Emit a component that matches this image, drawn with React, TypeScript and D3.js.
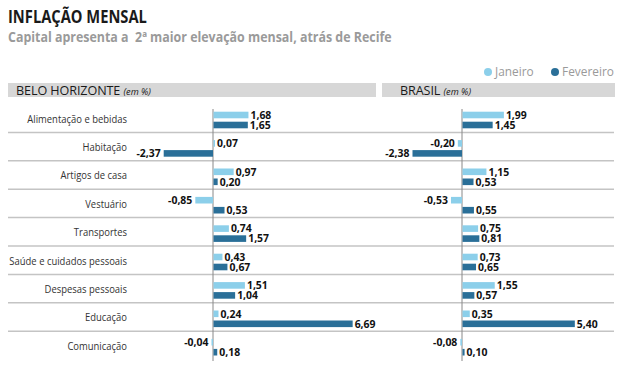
import { useEffect, useRef } from "react";
import * as d3 from "d3";

const categories = [
  "Alimentação e bebidas",
  "Habitação",
  "Artigos de casa",
  "Vestuário",
  "Transportes",
  "Saúde e cuidados pessoais",
  "Despesas pessoais",
  "Educação",
  "Comunicação",
];
const bhJaneiro = [1.68, 0.07, 0.97, -0.85, 0.74, 0.43, 1.51, 0.24, -0.04];
const bhFevereiro = [1.65, -2.37, 0.2, 0.53, 1.57, 0.67, 1.04, 6.69, 0.18];
const brJaneiro = [1.99, -0.2, 1.15, -0.53, 0.75, 0.73, 1.55, 0.35, -0.08];
const brFevereiro = [1.45, -2.38, 0.53, 0.55, 0.81, 0.65, 0.57, 5.4, 0.1];
const seriesNames = ["Janeiro", "Fevereiro"];

const W = 620;
const H = 367;
const FONT = "'Open Sans', sans-serif";
const JAN = "#8ccfea";
const FEV = "#2a6f98";
const SQUEEZE = 0.86;

const fmt = (v: number) => v.toFixed(2).replace(".", ",");

export default function App() {
  const ref = useRef<SVGSVGElement>(null);

  useEffect(() => {
    if (!ref.current) return;
    const svg = d3.select(ref.current);
    svg.selectAll("*").remove();

    // condensed-looking text: draw at origin, squeeze horizontally
    const txt = (
      g: d3.Selection<any, any, any, any>,
      x: number,
      y: number,
      s: string,
      o: { size: number; weight?: string; fill?: string; anchor?: string; style?: string; sq?: number },
    ) =>
      g
        .append("text")
        .attr("transform", `translate(${x},${y}) scale(${o.sq ?? SQUEEZE},1)`)
        .attr("font-family", FONT)
        .attr("font-size", o.size)
        .attr("font-weight", o.weight ?? "normal")
        .attr("font-style", o.style ?? "normal")
        .attr("fill", o.fill ?? "#222")
        .attr("text-anchor", o.anchor ?? "start")
        .style("white-space", "pre")
        .text(s);

    txt(svg, 8, 23, "INFLAÇÃO MENSAL", { size: 17.5, weight: "bold", fill: "#1a1a1a", sq: 0.84 });
    txt(svg, 8, 42, "Capital apresenta a  2ª maior elevação mensal, atrás de Recife", {
      size: 13.5,
      weight: "bold",
      fill: "#9a9a9a",
      sq: 0.92,
    });

    // legend
    const legendX = [488, 555];
    seriesNames.forEach((name, i) => {
      svg.append("circle").attr("cx", legendX[i]).attr("cy", 72).attr("r", 4).attr("fill", i === 0 ? JAN : FEV);
      txt(svg, legendX[i] + 7, 76, name, { size: 12.5, fill: "#9a9a9a", sq: 0.95 });
    });

    const y = d3.scaleBand<string>().domain(categories).range([104, 359.6]);

    // separators
    svg
      .append("g")
      .selectAll("line")
      .data(categories.slice(0, -1))
      .join("line")
      .attr("x1", 8)
      .attr("x2", 614)
      .attr("y1", (d) => (y(d) ?? 0) + y.bandwidth())
      .attr("y2", (d) => (y(d) ?? 0) + y.bandwidth())
      .attr("stroke", "#c4c4c4")
      .attr("stroke-width", 1.5);

    // category labels
    categories.forEach((c) => {
      txt(svg, 127, (y(c) ?? 0) + 18.5, c, { size: 11, fill: "#333", anchor: "end" });
    });

    const unit = 20.8;
    const panels = [
      { title: "BELO HORIZONTE", hx: 8, hw: 368, tx: 16, zero: 213, jan: bhJaneiro, fev: bhFevereiro },
      { title: "BRASIL", hx: 382, hw: 233, tx: 400, zero: 462, jan: brJaneiro, fev: brFevereiro },
    ];

    panels.forEach((p) => {
      svg.append("rect").attr("x", p.hx).attr("y", 83).attr("width", p.hw).attr("height", 14).attr("fill", "#d7d7d7");
      const t = svg
        .append("text")
        .attr("transform", `translate(${p.tx},95) scale(0.97,1)`)
        .attr("font-family", FONT)
        .attr("fill", "#1a1a1a");
      t.append("tspan").attr("font-size", 13).attr("letter-spacing", -0.1).text(p.title + " ");
      t.append("tspan").attr("font-size", 9.5).attr("font-style", "italic").text("(em %)");

      const x = d3
        .scaleLinear()
        .domain([-3, 7])
        .range([p.zero - 3 * unit, p.zero + 7 * unit]);

      const g = svg.append("g");
      g.append("line")
        .attr("x1", x(0))
        .attr("x2", x(0))
        .attr("y1", 109)
        .attr("y2", 361)
        .attr("stroke", "#888")
        .attr("stroke-width", 1);

      const series = [
        { vals: p.jan, color: JAN, off: 7.7 },
        { vals: p.fev, color: FEV, off: 17.7 },
      ];
      series.forEach((s) => {
        s.vals.forEach((v, i) => {
          const top = (y(categories[i]) ?? 0) + s.off;
          const w = Math.max(Math.abs(x(v) - x(0)), 1.5);
          g.append("rect")
            .attr("x", v < 0 ? x(0) - w : x(0) + 0.5)
            .attr("y", top)
            .attr("width", w)
            .attr("height", 6.6)
            .attr("fill", s.color);
          const lx = v < 0 ? x(0) - w - 3 : x(0) + 0.5 + w + 2;
          txt(g, lx, top + 7, fmt(v), { size: 11, weight: "bold", fill: "#111", anchor: v < 0 ? "end" : "start", sq: 0.95 });
        });
      });
    });
  }, []);

  return (
    <svg
      ref={ref}
      width={W}
      height={H}
      viewBox={`0 0 ${W} ${H}`}
      style={{ position: "absolute", left: 0, top: 0, background: "#fff" }}
    />
  );
}
